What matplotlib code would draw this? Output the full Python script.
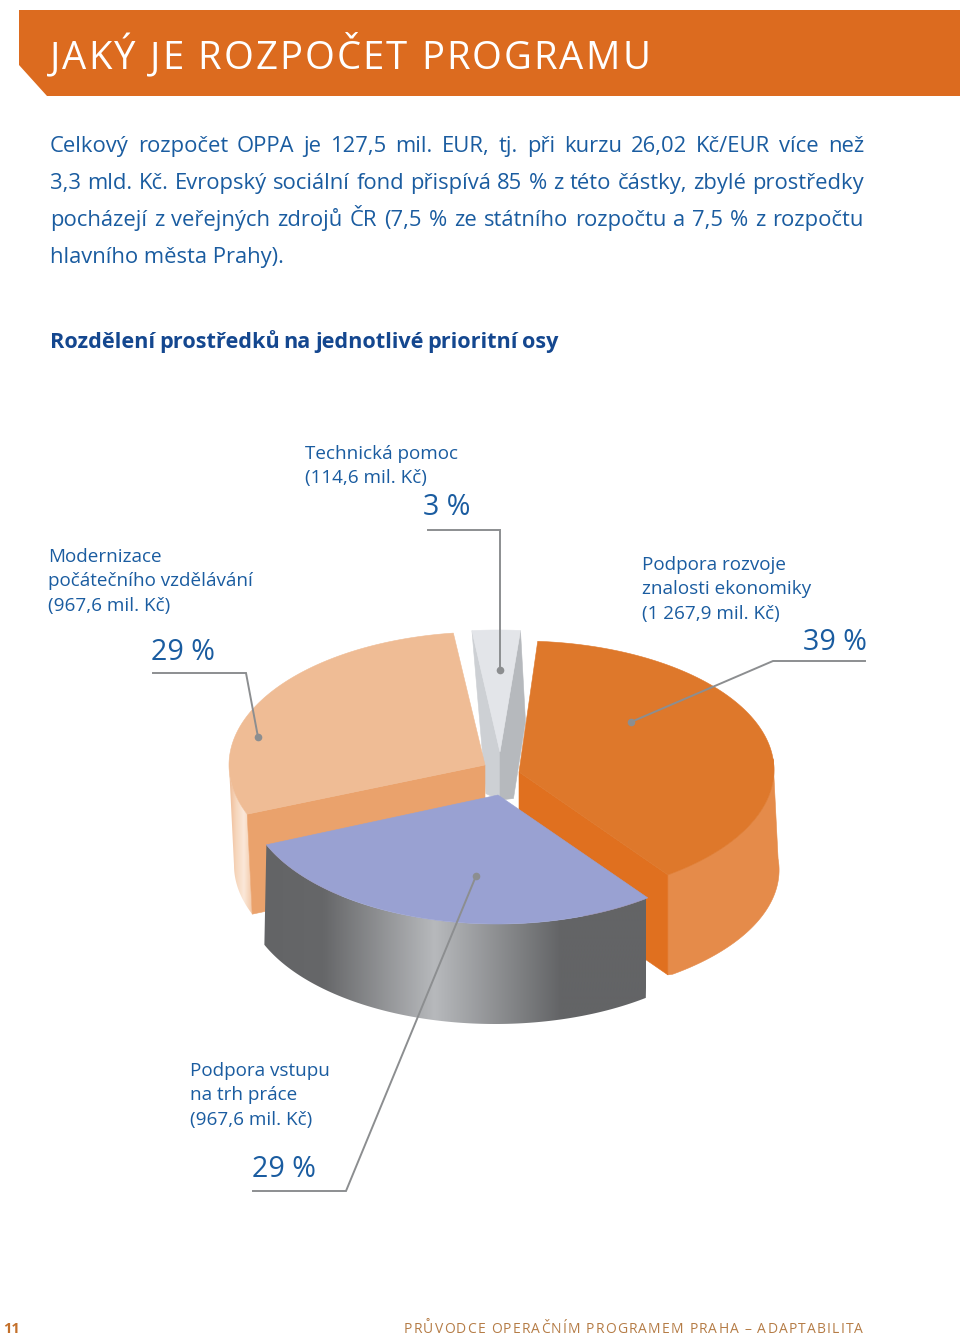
import numpy as np
import matplotlib
matplotlib.use('Agg')
import matplotlib.pyplot as plt
from matplotlib.colors import LinearSegmentedColormap
from matplotlib.font_manager import FontProperties
from matplotlib.patches import Polygon

# chart values
shares = [39, 29, 29, 3]
names = ['Podpora rozvoje\nznalosti ekonomiky', 'Podpora vstupu\nna trh práce',
         'Modernizace\npočátečního vzdělávání', 'Technická pomoc']
amounts = ['(1 267,9 mil. Kč)', '(967,6 mil. Kč)', '(967,6 mil. Kč)', '(114,6 mil. Kč)']

title = 'JAKÝ JE ROZPOČET PROGRAMU'
body_lines = ['Celkový rozpočet OPPA je 127,5 mil. EUR, tj. při kurzu 26,02 Kč/EUR více než',
              '3,3 mld. Kč. Evropský sociální fond přispívá 85 % z této částky, zbylé prostředky',
              'pocházejí z veřejných zdrojů ČR (7,5 % ze státního rozpočtu a 7,5 % z rozpočtu',
              'hlavního města Prahy).']
heading = 'Rozdělení prostředků na jednotlivé prioritní osy'
footer = 'PRŮVODCE OPERAČNÍM PROGRAMEM PRAHA – ADAPTABILITA'

BLUE = '#1A5CA0'
DARK_BLUE = '#14478F'
LEADER = '#8C8E90'
FONT = 'Open Sans'

fig = plt.figure(figsize=(9.6, 13.36), dpi=100)
ax = fig.add_axes([0, 0, 1, 1])
ax.set_xlim(0, 960)
ax.set_ylim(1336, 0)
ax.axis('off')
renderer = fig.canvas.get_renderer()


def text_w(s, size, weight):
    fp = FontProperties(family=FONT, size=size, weight=weight)
    return renderer.get_text_width_height_descent(s, fp, False)[0]


# places a line so it fills width, gaps go between words or between letters
def fit_text(x, y, s, width, size, color, weight='normal', by='word'):
    parts = s.split(' ') if by == 'word' else list(s)
    sep = ' ' if by == 'word' else ''
    gap = (width - text_w(s, size, weight)) / (len(parts) - 1)
    for i, p in enumerate(parts):
        prefix = sep.join(parts[:i]) + (sep if i else '')
        ax.text(x + text_w(prefix, size, weight) + i * gap, y, p, fontsize=size, color=color,
                weight=weight, family=FONT, va='baseline', ha='left')


# header band
ax.add_patch(Polygon([(19, 10), (960, 10), (960, 96), (47, 96), (19, 65)], fc='#DC6B1F', ec='none'))
fit_text(50, 69, title, 600, 27.5, 'white', weight='normal', by='char')

for i, line in enumerate(body_lines):
    y = 152 + i * 37
    if i < 3:
        fit_text(50, y, line, 814, 15.8, BLUE)
    else:
        ax.text(50, y, line, fontsize=15.8, color=BLUE, family=FONT, va='baseline')
fit_text(50, 348, heading, 508, 15.6, DARK_BLUE, weight='bold')

# pie geometry, angles come from the shares
DEPTH = 100
START = 85
ends = START - np.cumsum(shares) * 3.6
starts = np.r_[START, ends[:-1]]
centers = [(520, 770), (497, 795), (486, 765), (498, 759)]
apexes = [(519, 772), (498, 795), (485, 765), (500, 752)]
rot = [1, 2.5, 1.5, 0]
rxs = [254, 250, 257, 258]
rys = [129, 129, 133, 129]


def arc(k, a0, a1, rx=None, dx=0, dy=0):
    c = centers[k]
    rx = rxs[k] if rx is None else rx
    t = np.radians(np.linspace(a0 + rot[k], a1 + rot[k], 120))
    return np.c_[c[0] + dx + rx * np.cos(t), c[1] + dy - rys[k] * np.sin(t)]


def flat(poly, color, z):
    ax.add_patch(Polygon(poly, fc=color, ec=color, lw=0.4, zorder=z))


def gradient_wall(poly, x0, x1, stops, z):
    cmap = LinearSegmentedColormap.from_list('wall', stops)
    im = ax.imshow(np.linspace(0, 1, 256)[None, :], cmap=cmap, extent=(x0, x1, 1100, 600),
                   aspect='auto', zorder=z)
    patch = Polygon(poly, fc='none', ec='none', transform=ax.transData)
    ax.add_patch(patch)
    im.set_clip_path(patch)


# technical assistance wedge, furthest back
ap = np.array(apexes[3])
top = arc(3, starts[3], ends[3])
left, right = top[0], top[-1]
low = ap + (0, 48)
flat([left, ap, low, left + (14, 163)], '#CDD0D4', 1)
flat([right, right + (5, 91), right + (-7, 168), low, ap], '#B6B9BD', 1)
flat(np.vstack([top, ap]), '#E3E5E9', 1.1)

# modernizace wedge
ap = np.array(apexes[2])
top = arc(2, starts[2], ends[2])
front = top[0]
wall_top = arc(2, starts[2], -181.5)
wall_bot = arc(2, starts[2], -181.5, dx=5, dy=DEPTH)
gradient_wall(np.vstack([wall_top, wall_bot[::-1]]), 228, 252,
              ['#EDB68D', '#F6D6BC', '#FBE8D9', '#F3C9A8'], 2)
flat([ap, front, front + (5, DEPTH), ap + (0, DEPTH)], '#EAA26C', 2.5)
flat(np.vstack([top, ap]), '#EFBC95', 3)

# rozvoj znalosti wedge
ap = np.array(apexes[0])
top = arc(0, starts[0], ends[0])
front = top[-1]
wall_top = arc(0, 4, ends[0])
wall_bot = arc(0, 4, ends[0], rx=rxs[0] * 1.02, dy=DEPTH)
wall_bot[-1] = front + (0, DEPTH)
flat(np.vstack([wall_top, wall_bot[::-1]]), '#E58B4A', 3)
flat([ap, front, front + (0, DEPTH), ap + (0, DEPTH)], '#E0701F', 3.5)
flat(np.vstack([top, ap]), '#DE782B', 4)

# vstup na trh wedge, nearest
ap = np.array(apexes[1])
top = arc(1, starts[1], ends[1])
wall_bot = arc(1, starts[1], ends[1], dx=-2, dy=DEPTH)
gradient_wall(np.vstack([top, wall_bot[::-1]]), 262, 646,
              [(0, '#636466'), (0.16, '#666769'), (0.45, '#B7B9BC'), (0.78, '#636466'), (1, '#636466')], 5)
flat(np.vstack([top, ap]), '#99A1D2', 6)

ax.set_xlim(0, 960)
ax.set_ylim(1336, 0)

# leaders and labels
leaders = [[(865, 661), (773, 661), (631, 722)],
           [(253, 1191), (346, 1191), (476, 876)],
           [(153, 673), (246, 673), (258, 737)],
           [(428, 530), (500, 530), (500, 670)]]
for pts in leaders:
    xs, ys = zip(*pts)
    ax.plot(xs, ys, color=LEADER, lw=1.4, zorder=8, solid_joinstyle='miter')
    ax.plot(xs[-1], ys[-1], 'o', color=LEADER, ms=5.5, zorder=8, mec='none')

label_pos = [(642, 570), (190, 1076), (48, 562), (305, 459)]
pct_pos = [(803, 650), (252, 1177), (151, 660), (423, 515)]
for name, amount, share, (x, y), (px, py) in zip(names, amounts, shares, label_pos, pct_pos):
    for i, line in enumerate(name.split('\n') + [amount]):
        ax.text(x, y + i * 24.4, line, fontsize=13.6, color=BLUE, family=FONT, va='baseline')
    ax.text(px, py, f'{share} %', fontsize=20.6, color=BLUE, family=FONT, va='baseline')

# footer
ax.text(3, 1333, '11', fontsize=10.5, color='#C4702A', family=FONT, weight='bold', va='baseline')
fit_text(404, 1333, footer, 459, 10, '#B57C46', by='char')

fig.savefig('out.png', dpi=100)
plt.close(fig)
